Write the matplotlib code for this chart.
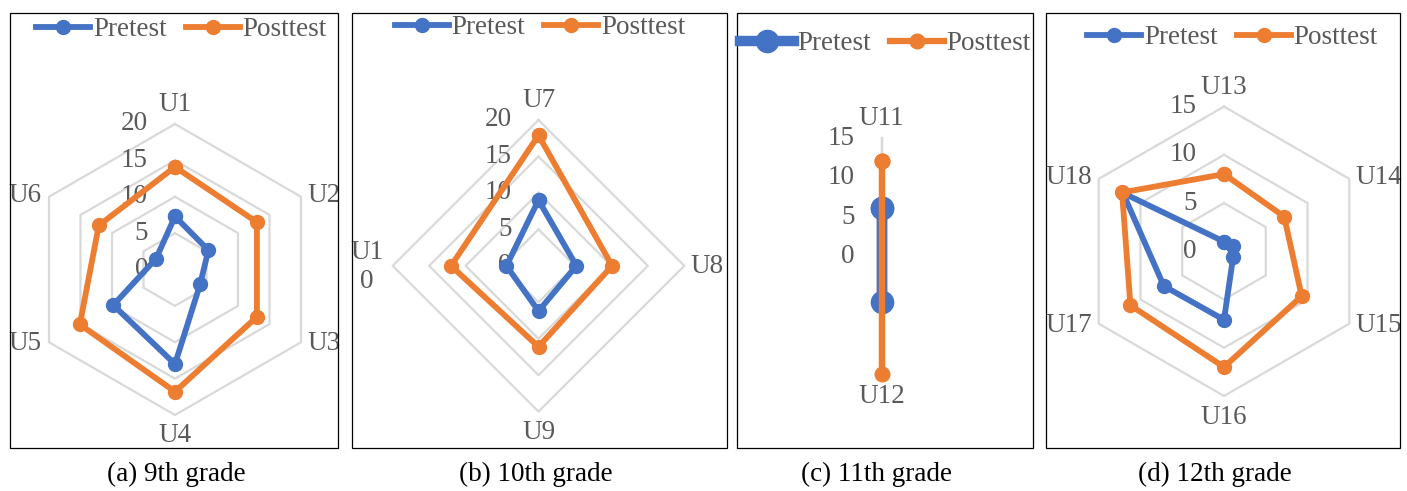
import numpy as np
import matplotlib
matplotlib.use("Agg")
import matplotlib.pyplot as plt
from matplotlib.lines import Line2D
from matplotlib.patches import Rectangle
from matplotlib.transforms import offset_copy

plt.rcParams['font.family'] = ['Liberation Serif', 'DejaVu Serif']

# ---------------- data ----------------
series_names = ['Pretest', 'Posttest']

cats_a = ['U1', 'U2', 'U3', 'U4', 'U5', 'U6']
pre_a = [7.3, 5.3, 4.0, 13.0, 9.8, 3.0]
post_a = [14.1, 13.0, 13.0, 16.8, 15.1, 12.1]
ticks_a = [0, 5, 10, 15, 20]

cats_b = ['U7', 'U8', 'U9', 'U1\n0']
pre_b = [9.0, 5.2, 6.2, 4.4]
post_b = [17.9, 10.1, 11.1, 12.0]
ticks_b = [0, 5, 10, 15, 20]

cats_c = ['U11', 'U12']
pre_c = [6.2, 5.8]
post_c = [12.1, 14.8]
ticks_c = [0, 5, 10, 15]

cats_d = ['U13', 'U14', 'U15', 'U16', 'U17', 'U18']
pre_d = [1.0, 1.1, 1.1, 7.1, 7.2, 12.1]
post_d = [8.0, 7.2, 9.3, 12.0, 11.2, 12.2]
ticks_d = [0, 5, 10, 15]

captions = ['(a) 9th grade', '(b) 10th grade', '(c) 11th grade', '(d) 12th grade']

# ---------------- style ----------------
W, H = 1407, 491
BLUE = '#4472C4'
ORANGE = '#ED7D31'
GRID = '#D9D9D9'
TXT = '#595959'
FS = 19.5

fig = plt.figure(figsize=(W / 100, H / 100), dpi=100)


def fx(px):
    return px / W


def fy(py):
    return 1 - py / H


panels = [
    dict(cats=cats_a, pre=pre_a, post=post_a, ticks=ticks_a,
         c=(175, 269.5), R=145.5, box=(10, 12.7, 338.3, 448.3),
         leg=(181.5, 29.5), cap=(176.7, 474), big=False),
    dict(cats=cats_b, pre=pre_b, post=post_b, ticks=ticks_b,
         c=(538.5, 265.8), R=145.8, box=(351.7, 12.7, 726.7, 448.3),
         leg=(540, 28), cap=(535.8, 474), big=False),
    dict(cats=cats_c, pre=pre_c, post=post_c, ticks=ticks_c,
         c=(881.7, 256.7), R=118.4, box=(736.7, 12.7, 1033.3, 448.3),
         leg=(885.5, 44), cap=(876.7, 474), big=True),
    dict(cats=cats_d, pre=pre_d, post=post_d, ticks=ticks_d,
         c=(1224, 251.3), R=144.7, box=(1046, 12.7, 1400, 448.3),
         leg=(1232.5, 37.5), cap=(1215, 474), big=False),
]

for k, p in enumerate(panels):
    cx, cy = p['c']
    R = p['R']
    rmax = p['ticks'][-1]
    ax = fig.add_axes([fx(cx - R), fy(cy + R), 2 * R / W, 2 * R / H],
                      projection='polar')
    ax.set_theta_zero_location('N')
    ax.set_theta_direction(-1)
    ax.set_ylim(0, rmax)
    ax.set_xticks([])
    ax.set_yticks([])
    ax.grid(False)
    ax.spines['polar'].set_visible(False)
    ax.patch.set_alpha(0)

    n = len(p['cats'])
    theta = np.arange(n) * 2 * np.pi / n
    tclosed = np.append(theta, theta[0])

    # rings
    for v in p['ticks'][1:]:
        ax.plot(tclosed, [v] * (n + 1), color=GRID, lw=1.6, zorder=1,
                clip_on=False)

    if p['big']:
        pre_kw = dict(lw=7.5, ms=16)
        post_kw = dict(lw=4.5, ms=10.5)
    else:
        pre_kw = dict(lw=4.2, ms=10)
        post_kw = dict(lw=4.2, ms=10)

    ax.plot(tclosed, np.append(p['pre'], p['pre'][0]), color=BLUE,
            marker='o', zorder=3, clip_on=False, **pre_kw)
    ax.plot(tclosed, np.append(p['post'], p['post'][0]), color=ORANGE,
            marker='o', zorder=4, clip_on=False, **post_kw)

    # radial tick labels
    tr = offset_copy(ax.transData, fig=fig, x=-27, y=0, units='dots')
    for v in p['ticks']:
        ax.text(0, v, str(v), transform=tr, ha='right', va='center',
                fontsize=FS, color=TXT, zorder=2)

    # category labels
    for th, lab in zip(theta, p['cats']):
        s, c = np.sin(th), np.cos(th)
        if abs(s) < 0.1:
            dx, dy, ha = 0, (19.5 if c > 0 else -21), 'center'
        elif s > 0:
            dx, dy, ha = 6, (1.5 if c > 0.1 else (-1.5 if c < -0.1 else -1)), 'left'
        else:
            dx, dy, ha = -7, (1.5 if c > 0.1 else (-1.5 if c < -0.1 else -1)), 'right'
        if '\n' in lab:
            dx = -9
        t = offset_copy(ax.transData, fig=fig, x=dx, y=dy, units='dots')
        ax.text(th, rmax, lab, transform=t, ha=ha, va='center',
                multialignment='center', fontsize=FS, color=TXT,
                linespacing=1.2)

    # legend
    handles = [Line2D([], [], color=BLUE, marker='o', **pre_kw),
               Line2D([], [], color=ORANGE, marker='o', **post_kw)]
    fig.legend(handles=handles, labels=series_names, loc='center',
               bbox_to_anchor=(fx(p['leg'][0]), fy(p['leg'][1])),
               ncol=2, frameon=False, fontsize=FS, labelcolor=TXT,
               handlelength=2.0, handletextpad=0.1, columnspacing=0.7,
               borderpad=0, borderaxespad=0)

    # frame
    x0, y0, x1, y1 = p['box']
    fig.add_artist(Rectangle((fx(x0), fy(y1)), (x1 - x0) / W, (y1 - y0) / H,
                             transform=fig.transFigure, fill=False,
                             edgecolor='black', lw=0.9))

    # caption
    fig.text(fx(p['cap'][0]), fy(p['cap'][1]), captions[k],
             ha='center', va='center', fontsize=19.5, color='black')

fig.savefig('out.png', dpi=100)
